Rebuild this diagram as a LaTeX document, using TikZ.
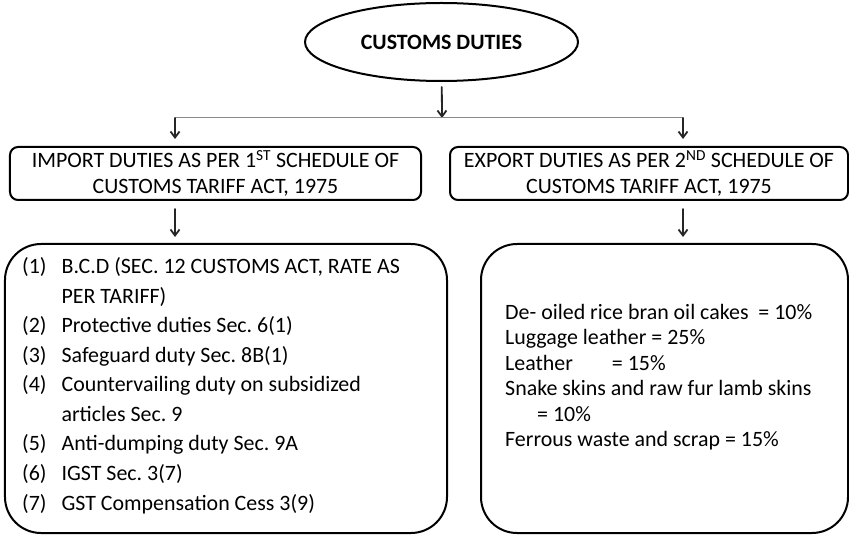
\documentclass[tikz,border=0pt]{standalone}
\usepackage{fontspec}
\setmainfont{Carlito}
\usetikzlibrary{arrows.meta,positioning,shapes.geometric}
\frenchspacing

\def\SplitY{118}
\def\LeftX{175}
\def\RightX{683}

\begin{document}
\begin{tikzpicture}[x=1bp, y=-1bp,
  >={Straight Barb[length=6bp, width=9bp]},
  line cap=round, line join=round,
  every node/.style={font=\fontsize{22}{26}\selectfont, inner sep=0pt},
  title/.style ={ellipse, draw, line width=2bp, minimum width=273bp, minimum height=78bp,
                 font=\fontsize{22}{26}\selectfont\bfseries},
  headbox/.style={draw, line width=2bp, rounded corners=8bp, align=center, minimum height=53bp},
  listbox/.style={draw, line width=2bp, rounded corners=36bp, minimum height=289bp},
  down/.style   ={->, line width=1.8bp, black!85},
  split/.style  ={black!45, line width=1bp}
]
\useasboundingbox (0,0) rectangle (849,536);

% --- Top of the tree ---------------------------------------------------
\node[title] (duties) at (441.5,42) {CUSTOMS DUTIES};

\coordinate (split) at (442,\SplitY);
\coordinate (lft)   at (\LeftX,\SplitY);
\coordinate (rgt)   at (\RightX,\SplitY);

% --- The two schedules -------------------------------------------------
\node[headbox, minimum width=411bp] (import) at (215.5,173.5)
  {IMPORT DUTIES AS PER 1\textsuperscript{ST} SCHEDULE OF\\ CUSTOMS TARIFF ACT, 1975};
\node[headbox, minimum width=398bp] (export) at (649,173.5)
  {EXPORT DUTIES AS PER 2\textsuperscript{ND} SCHEDULE OF\\ CUSTOMS TARIFF ACT, 1975};

% --- Lists of duties ---------------------------------------------------
\node[listbox, minimum width=442bp] (implist) at (226,388.5) {};
\node[listbox, minimum width=367bp] (explist) at (664.5,388.5) {};

\node[anchor=west] (imptext) at (22,386) {%
  \renewcommand{\arraystretch}{1.14}%
  \begin{tabular}{@{}l@{\hspace{15bp}}l@{}}
  (1) & B.C.D (SEC. 12 CUSTOMS ACT, RATE AS\\
      & PER TARIFF)\\
  (2) & Protective duties Sec. 6(1)\\
  (3) & Safeguard duty Sec. 8B(1)\\
  (4) & Countervailing duty on subsidized\\
      & articles Sec. 9\\
  (5) & Anti-dumping duty Sec. 9A\\
  (6) & IGST Sec. 3(7)\\
  (7) & GST Compensation Cess 3(9)
  \end{tabular}};

\node[anchor=west, align=left, font=\fontsize{22}{25.6}\selectfont] (exptext) at (505,377) {%
  De- oiled rice bran oil cakes \ = 10\%\\
  Luggage leather = 25\%\\
  Leather \hspace{34bp}= 15\%\\
  Snake skins and raw fur lamb skins\\
  \hspace{32bp}= 10\%\\
  Ferrous waste and scrap = 15\%};

% --- Connectors --------------------------------------------------------
\draw[down, shorten <=5bp] (duties) -- (split);
\draw[split] (lft) -- (rgt);
\draw[down, shorten >=7bp] (lft) -- (lft |- import.north);
\draw[down, shorten >=7bp] (rgt) -- (rgt |- export.north);
\draw[down, shorten <=8bp, shorten >=6bp] (lft |- import.south) -- (lft |- implist.north);
\draw[down, shorten <=8bp, shorten >=6bp] (rgt |- export.south) -- (rgt |- explist.north);

\end{tikzpicture}
\end{document}
